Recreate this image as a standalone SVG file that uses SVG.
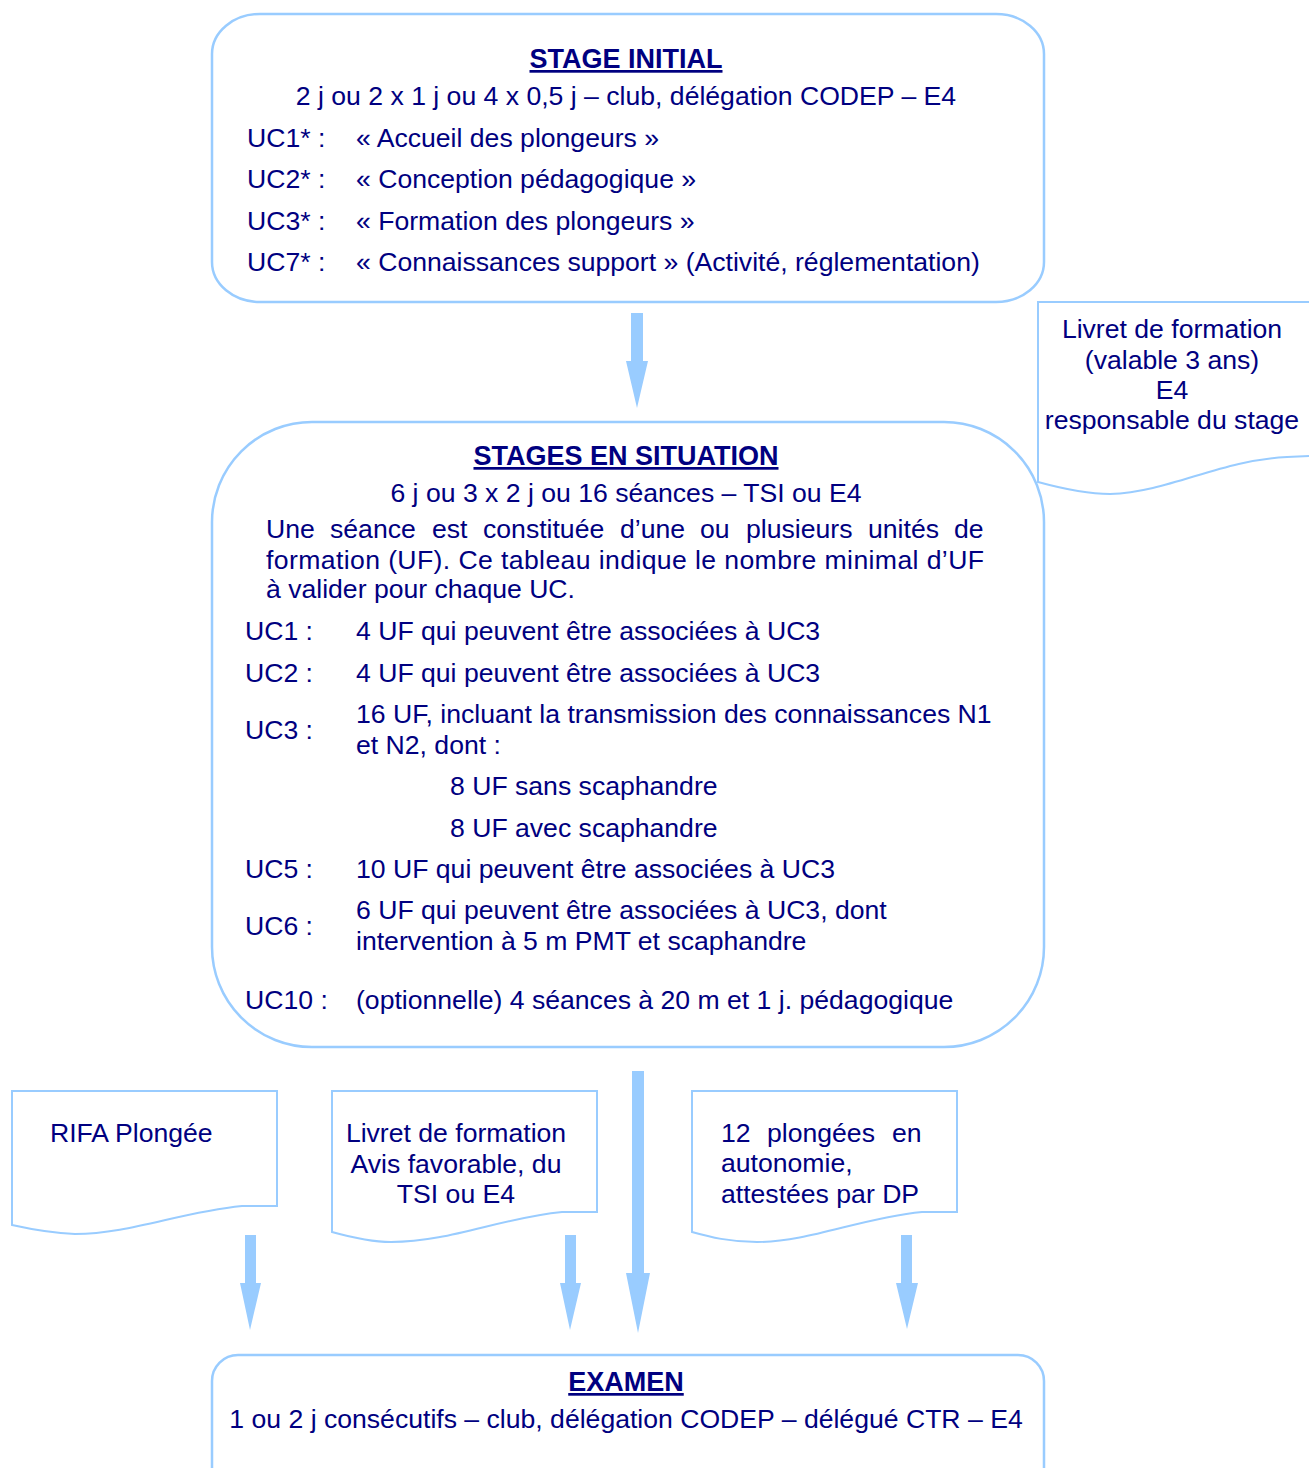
<svg xmlns="http://www.w3.org/2000/svg" width="1309" height="1468" viewBox="0 0 1309 1468">
<style>
text{font-family:"Liberation Sans",Arial,sans-serif;font-size:26.6px;fill:#000080}
.t{font-weight:bold;font-size:27px;text-decoration:underline;text-anchor:middle}
.c{text-anchor:middle}
.box{fill:#fff;stroke:#99ccff;stroke-width:2.5}
.doc{fill:#fff;stroke:#99ccff;stroke-width:2}
.arr{fill:#99ccff;stroke:none}
</style>
<rect width="1309" height="1468" fill="#fff"/>
<g id="stage-initial">
<rect class="box" x="212" y="14" width="832" height="288" rx="48" ry="40"/>
<text class="t" x="626" y="68">STAGE INITIAL</text>
<text class="c" x="626" y="105">2 j ou 2 x 1 j ou 4 x 0,5 j – club, délégation CODEP – E4</text>
<text x="247" y="147">UC1* :</text><text x="356" y="147">« Accueil des plongeurs »</text>
<text x="247" y="188">UC2* :</text><text x="356" y="188">« Conception pédagogique »</text>
<text x="247" y="230">UC3* :</text><text x="356" y="230">« Formation des plongeurs »</text>
<text x="247" y="271">UC7* :</text><text x="356" y="271">« Connaissances support » (Activité, réglementation)</text>
</g>
<g id="livret-1">
<path class="doc" d="M1309,302 H1038 V482 C1060,488 1085,494 1110,494 C1170,492 1220,460 1287,457 L1309,456"/>
<text class="c" x="1172" y="338">Livret de formation</text>
<text class="c" x="1172" y="369">(valable 3 ans)</text>
<text class="c" x="1172" y="399">E4</text>
<text class="c" x="1172" y="429">responsable du stage</text>
</g>
<g id="stages-situation">
<rect class="box" x="212" y="422" width="832" height="625" rx="100" ry="100"/>
<text class="t" x="626" y="465">STAGES EN SITUATION</text>
<text class="c" x="626" y="502">6 j ou 3 x 2 j ou 16 séances – TSI ou E4</text>
<text y="538"><tspan x="266">Une</tspan><tspan x="330">séance</tspan><tspan x="432">est</tspan><tspan x="483">constituée</tspan><tspan x="620">d’une</tspan><tspan x="700">ou</tspan><tspan x="746">plusieurs</tspan><tspan x="868">unités</tspan><tspan x="954">de</tspan></text>
<text x="266" y="569" textLength="718" lengthAdjust="spacing">formation (UF). Ce tableau indique le nombre minimal d’UF</text>
<text x="266" y="598">à valider pour chaque UC.</text>
<text x="245" y="640">UC1 :</text><text x="356" y="640">4 UF qui peuvent être associées à UC3</text>
<text x="245" y="682">UC2 :</text><text x="356" y="682">4 UF qui peuvent être associées à UC3</text>
<text x="245" y="739">UC3 :</text><text x="356" y="723">16 UF, incluant la transmission des connaissances N1</text><text x="356" y="754">et N2, dont :</text>
<text x="450" y="795">8 UF sans scaphandre</text>
<text x="450" y="837">8 UF avec scaphandre</text>
<text x="245" y="878">UC5 :</text><text x="356" y="878">10 UF qui peuvent être associées à UC3</text>
<text x="245" y="935">UC6 :</text><text x="356" y="919">6 UF qui peuvent être associées à UC3, dont</text><text x="356" y="950">intervention à 5 m PMT et scaphandre</text>
<text x="245" y="1009">UC10 :</text><text x="356" y="1009">(optionnelle) 4 séances à 20 m et 1 j. pédagogique</text>
</g>
<g id="rifa">
<path class="doc" d="M12,1091 H277 V1206 H242 C180,1212 130,1234 75,1234 C50,1233 30,1229 12,1225 Z"/>
<text x="50" y="1142">RIFA Plongée</text>
</g>
<g id="livret-2">
<path class="doc" d="M332,1091 H597 V1212 H562 C500,1218 450,1242 391,1242 C370,1242 350,1237 332,1232 Z"/>
<text class="c" x="456" y="1142">Livret de formation</text>
<text class="c" x="456" y="1173">Avis favorable, du</text>
<text class="c" x="456" y="1203">TSI ou E4</text>
</g>
<g id="plongees">
<path class="doc" d="M692,1091 H957 V1212 H922 C860,1218 810,1242 757,1242 C730,1242 710,1237 692,1232 Z"/>
<text y="1142"><tspan x="721">12</tspan><tspan x="767">plongées</tspan><tspan x="892">en</tspan></text>
<text x="721" y="1172">autonomie,</text>
<text x="721" y="1203">attestées par DP</text>
</g>
<g id="examen">
<rect class="box" x="212" y="1355" width="832" height="140" rx="26" ry="26"/>
<text class="t" x="626" y="1391">EXAMEN</text>
<text class="c" x="626" y="1428">1 ou 2 j consécutifs – club, délégation CODEP – délégué CTR – E4</text>
</g>
<g id="connectors">
<path class="arr" d="M631,313 H643 V361 H648 L637,408 L626,361 H631 Z"/>
<path class="arr" d="M632,1071 H644 V1273 H650 L638,1333 L626,1273 H632 Z"/>
<path class="arr" d="M245,1235 H256 V1283 H261 L250,1330 L240,1283 H245 Z"/>
<path class="arr" d="M565,1235 H576 V1283 H581 L570,1330 L560,1283 H565 Z"/>
<path class="arr" d="M901,1235 H912 V1283 H918 L907,1329 L896,1283 H901 Z"/>
</g>
</svg>
